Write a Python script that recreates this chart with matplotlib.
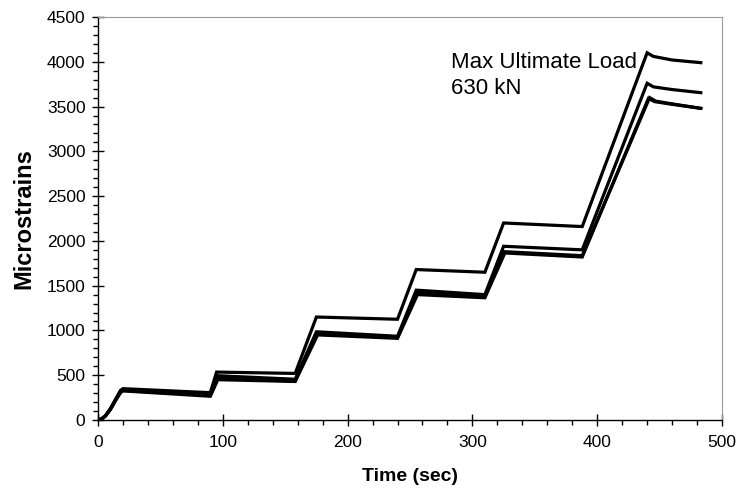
import matplotlib
matplotlib.use('Agg')
import matplotlib.pyplot as plt
from matplotlib.ticker import MultipleLocator

plt.rcParams['font.family'] = ['Liberation Sans', 'DejaVu Sans']

# strain gauge readings
t_top = [0, 3, 6, 10, 14, 18, 20, 90, 95, 158, 175, 240, 255, 310, 325, 388, 440, 445, 460, 483]
e_top = [0, 15, 50, 130, 230, 330, 350, 305, 535, 520, 1150, 1125, 1680, 1650, 2200, 2160, 4100, 4060, 4020, 3990]

t_mid = [0, 3, 6, 10, 14, 18, 20, 90, 95, 158, 175, 240, 255, 310, 325, 388, 440, 445, 460, 483]
e_mid = [0, 14, 48, 125, 225, 320, 340, 290, 495, 455, 985, 935, 1450, 1400, 1940, 1900, 3760, 3720, 3690, 3655]

t_low = [0, 3, 6, 10, 14, 18, 20, 90, 95, 158, 175, 240, 255, 310, 325, 388, 442, 447, 460, 483]
e_low = [0, 12, 45, 120, 220, 310, 330, 275, 465, 435, 960, 920, 1425, 1375, 1880, 1835, 3600, 3560, 3530, 3480]

t_low2 = [0, 3, 6, 10, 14, 18, 20, 90, 96, 158, 176, 240, 256, 310, 326, 388, 441, 446, 460, 483]
e_low2 = [0, 12, 44, 118, 215, 305, 325, 265, 450, 430, 950, 912, 1400, 1365, 1865, 1820, 3590, 3555, 3525, 3480]

series = [(t_top, e_top), (t_mid, e_mid), (t_low, e_low), (t_low2, e_low2)]

fig = plt.figure(figsize=(7.41, 4.93), dpi=100)
ax = fig.add_axes([98/741, 73/493, 624/741, 403/493])

for t, e in series:
    ax.plot(t, e, color='black', lw=2.3, solid_joinstyle='miter')

ax.set_xlim(0, 500)
ax.set_ylim(0, 4500)
ax.xaxis.set_major_locator(MultipleLocator(100))
ax.xaxis.set_minor_locator(MultipleLocator(20))
ax.yaxis.set_major_locator(MultipleLocator(500))
ax.yaxis.set_minor_locator(MultipleLocator(100))
ax.tick_params(which='major', direction='inout', length=8, width=1, labelsize=12.5, pad=5)
ax.tick_params(axis='x', which='major', pad=7)
ax.tick_params(which='minor', direction='out', length=3.5, width=1)

for s in ['top', 'right']:
    ax.spines[s].set_color('#999999')
    ax.spines[s].set_linewidth(0.8)
for s in ['left', 'bottom']:
    ax.spines[s].set_linewidth(1.0)

ax.set_xlabel('Time (sec)', fontsize=14, fontweight='bold', labelpad=13)
ax.set_ylabel('Microstrains', fontsize=17, fontweight='bold', labelpad=8)

ax.text(283, 4105, 'Max Ultimate Load\n630 kN', fontsize=16, va='top', ha='left',
        linespacing=1.27)

fig.savefig('out.png', dpi=100)
